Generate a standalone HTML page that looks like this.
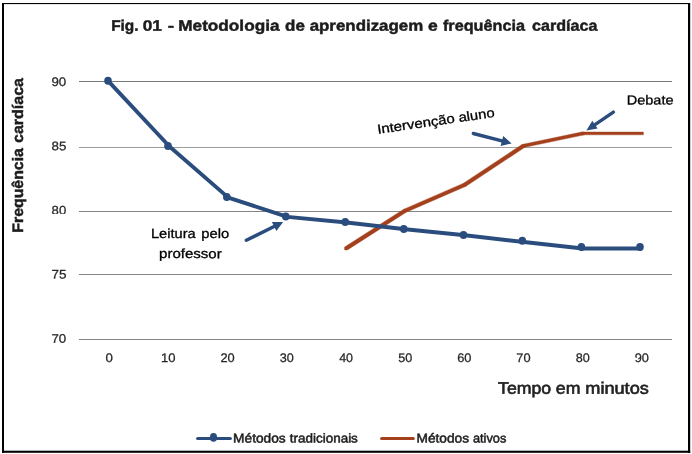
<!DOCTYPE html>
<html><head><meta charset="utf-8"><title>Fig. 01</title>
<style>
html,body{margin:0;padding:0;background:#fff;}
body{width:692px;height:454px;overflow:hidden;font-family:"Liberation Sans",sans-serif;}
svg{display:block;will-change:transform;}
text{font-family:"Liberation Sans",sans-serif;text-rendering:geometricPrecision;}
</style></head><body>
<svg width="692" height="454" viewBox="0 0 692 454">
<rect x="0" y="0" width="692" height="454" fill="#ffffff"/>
<clipPath id="c80"><rect x="40" y="200" width="40" height="13.9"/></clipPath>
<rect x="2" y="3" width="2" height="450" fill="#000"/>
<rect x="2" y="3" width="688" height="1.1" fill="#000"/>
<rect x="688" y="3" width="2.2" height="450" fill="#000"/>
<rect x="2" y="450.7" width="688.2" height="2.1" fill="#000"/>
<line x1="79" y1="81.5" x2="672" y2="81.5" stroke="#7a7a7a" stroke-width="1"/>
<line x1="79" y1="147.5" x2="672" y2="147.5" stroke="#9c9c9c" stroke-width="1"/>
<line x1="79" y1="211.5" x2="672" y2="211.5" stroke="#858585" stroke-width="1"/>
<line x1="79" y1="274.5" x2="672" y2="274.5" stroke="#858585" stroke-width="1"/>
<line x1="79" y1="339.5" x2="672" y2="339.5" stroke="#858585" stroke-width="1"/>
<text transform="translate(111.16,30.67) rotate(0.03) scale(1.0152,1)" font-size="15.2" font-weight="bold" fill="#1c1c1c" stroke="#1c1c1c" stroke-width="0.45">Fig.</text>
<text transform="translate(142.79,30.67) rotate(0.03) scale(1.1306,1)" font-size="15.2" font-weight="bold" fill="#1c1c1c" stroke="#1c1c1c" stroke-width="0.45">01</text>
<text transform="translate(167.73,30.67) rotate(0.03) scale(1.2508,1)" font-size="15.2" font-weight="bold" fill="#1c1c1c" stroke="#1c1c1c" stroke-width="0.45">-</text>
<text transform="translate(178.25,30.67) rotate(0.03) scale(1.1320,1)" font-size="15.2" font-weight="bold" fill="#1c1c1c" stroke="#1c1c1c" stroke-width="0.45">Metodologia</text>
<text transform="translate(285.09,30.67) rotate(0.03) scale(1.1164,1)" font-size="15.2" font-weight="bold" fill="#1c1c1c" stroke="#1c1c1c" stroke-width="0.45">de</text>
<text transform="translate(309.66,30.67) rotate(0.03) scale(1.1119,1)" font-size="15.2" font-weight="bold" fill="#1c1c1c" stroke="#1c1c1c" stroke-width="0.45">aprendizagem</text>
<text transform="translate(427.98,30.67) rotate(0.03) scale(1.1513,1)" font-size="15.2" font-weight="bold" fill="#1c1c1c" stroke="#1c1c1c" stroke-width="0.45">e</text>
<text transform="translate(442.97,30.67) rotate(0.03) scale(1.0681,1)" font-size="15.2" font-weight="bold" fill="#1c1c1c" stroke="#1c1c1c" stroke-width="0.45">frequência</text>
<text transform="translate(532.12,30.67) rotate(0.03) scale(1.0593,1)" font-size="15.2" font-weight="bold" fill="#1c1c1c" stroke="#1c1c1c" stroke-width="0.45">cardíaca</text>
<text transform="translate(498.02,393.7) rotate(0.03) scale(1.0677,1)" font-size="16.6" fill="#222" stroke="#222" stroke-width="0.6">Tempo</text>
<text transform="translate(555.85,393.7) rotate(0.03) scale(1.0654,1)" font-size="16.6" fill="#222" stroke="#222" stroke-width="0.6">em</text>
<text transform="translate(585.26,393.7) rotate(0.03) scale(1.0943,1)" font-size="16.6" fill="#222" stroke="#222" stroke-width="0.6">minutos</text>
<text transform="translate(150.91,238.1) rotate(0.03) scale(1.1004,1)" font-size="13.3" fill="#000" stroke="#000" stroke-width="0.3">Leitura</text>
<text transform="translate(201.23,238.1) rotate(0.03) scale(1.1104,1)" font-size="13.3" fill="#000" stroke="#000" stroke-width="0.3">pelo</text>
<text transform="translate(159.11,258.1) rotate(0.03) scale(1.1294,1)" font-size="13.3" fill="#000" stroke="#000" stroke-width="0.3">professor</text>
<text transform="translate(626.82,104.6) rotate(0.03) scale(1.0976,1)" font-size="13.2" fill="#000" stroke="#000" stroke-width="0.3">Debate</text>
<text transform="translate(233.08,442.5) rotate(0.03) scale(1.0714,1)" font-size="12.8" fill="#1c1c1c" stroke="#1c1c1c" stroke-width="0.5">Métodos</text>
<text transform="translate(289.75,442.5) rotate(0.03) scale(1.0522,1)" font-size="12.8" fill="#1c1c1c" stroke="#1c1c1c" stroke-width="0.5">tradicionais</text>
<text transform="translate(416.48,442.5) rotate(0.03) scale(1.0714,1)" font-size="12.8" fill="#1c1c1c" stroke="#1c1c1c" stroke-width="0.5">Métodos</text>
<text transform="translate(472.95,442.5) rotate(0.03) scale(0.9989,1)" font-size="12.8" fill="#1c1c1c" stroke="#1c1c1c" stroke-width="0.5">ativos</text>
<text transform="translate(51.40,86.0) rotate(0.03) scale(1.0734,1)" font-size="12.4" fill="#262626" stroke="#262626" stroke-width="0.25">90</text>
<text transform="translate(51.61,150.2) rotate(0.03) scale(1.0734,1)" font-size="12.4" fill="#262626" stroke="#262626" stroke-width="0.25">85</text>
<g clip-path="url(#c80)"><text transform="translate(51.62,214.4) rotate(0.03) scale(1.0576,1)" font-size="12.4" fill="#262626" stroke="#262626" stroke-width="0.25">80</text></g>
<text transform="translate(51.39,278.6) rotate(0.03) scale(1.0898,1)" font-size="12.4" fill="#262626" stroke="#262626" stroke-width="0.25">75</text>
<text transform="translate(51.40,342.8) rotate(0.03) scale(1.0734,1)" font-size="12.4" fill="#262626" stroke="#262626" stroke-width="0.25">70</text>
<text transform="translate(105.61,362.0) rotate(0.03) scale(1.0726,1)" font-size="12.4" fill="#262626" stroke="#262626" stroke-width="0.25">0</text>
<text transform="translate(161.04,362.0) rotate(0.03) scale(1.0505,1)" font-size="12.4" fill="#262626" stroke="#262626" stroke-width="0.25">10</text>
<text transform="translate(220.43,362.0) rotate(0.03) scale(1.0347,1)" font-size="12.4" fill="#262626" stroke="#262626" stroke-width="0.25">20</text>
<text transform="translate(279.82,362.0) rotate(0.03) scale(1.0194,1)" font-size="12.4" fill="#262626" stroke="#262626" stroke-width="0.25">30</text>
<text transform="translate(339.20,362.0) rotate(0.03) scale(1.0045,1)" font-size="12.4" fill="#262626" stroke="#262626" stroke-width="0.25">40</text>
<text transform="translate(398.18,362.0) rotate(0.03) scale(1.0194,1)" font-size="12.4" fill="#262626" stroke="#262626" stroke-width="0.25">50</text>
<text transform="translate(457.15,362.0) rotate(0.03) scale(1.0347,1)" font-size="12.4" fill="#262626" stroke="#262626" stroke-width="0.25">60</text>
<text transform="translate(516.33,362.0) rotate(0.03) scale(1.0347,1)" font-size="12.4" fill="#262626" stroke="#262626" stroke-width="0.25">70</text>
<text transform="translate(575.72,362.0) rotate(0.03) scale(1.0194,1)" font-size="12.4" fill="#262626" stroke="#262626" stroke-width="0.25">80</text>
<text transform="translate(634.69,362.0) rotate(0.03) scale(1.0347,1)" font-size="12.4" fill="#262626" stroke="#262626" stroke-width="0.25">90</text>
<text transform="translate(23.4,231.7) rotate(-90) translate(-0.97,0) scale(1.0438,1)" font-size="15.2" font-weight="bold" fill="#1c1c1c" stroke="#1c1c1c" stroke-width="0.45">Frequência</text>
<text transform="translate(23.4,142.4) rotate(-90) translate(-0.58,0) scale(1.0544,1)" font-size="15.2" font-weight="bold" fill="#1c1c1c" stroke="#1c1c1c" stroke-width="0.45">cardíaca</text>
<text transform="translate(378.9,133.8) rotate(-8.3) translate(-1.02,0) scale(1.1263,1)" font-size="13.3" fill="#000" stroke="#000" stroke-width="0.3">Intervenção</text>
<text transform="translate(378.9,133.8) rotate(-8.3) translate(81.19,0) scale(1.1112,1)" font-size="13.3" fill="#000" stroke="#000" stroke-width="0.3">aluno</text>
<rect x="634.4" y="357.7" width="3.7" height="1.8" fill="#fff"/>
<path d="M344.58 247.08 L403.38 209.38 L406.22 209.38 L406.22 212.22 L347.42 249.92 L344.58 249.92Z M403.38 209.38 L463.18 183.38 L466.02 183.38 L466.02 186.22 L406.22 212.22 L403.38 212.22Z M463.18 183.38 L521.98 144.48 L524.82 144.48 L524.82 147.32 L466.02 186.22 L463.18 186.22Z M521.98 144.48 L581.58 132.03 L584.42 132.03 L584.42 134.87 L524.82 147.32 L521.98 147.32Z M581.58 132.03 L643.42 132.03 L643.42 134.87 L581.58 134.87Z" fill="#a5401c" stroke="#a5401c" stroke-width="0.4" stroke-linejoin="round"/>
<polyline points="109.5,82.3 169.5,146.5 228.3,197.6 287.3,216.9 346.7,222.5 405.3,229.2 465.0,235.3 523.8,242.0 582.9,248.5 641.5,248.5" fill="none" stroke="#2b4d7e" stroke-width="3.9" stroke-linejoin="round" stroke-linecap="butt"/>
<ellipse cx="108.0" cy="80.8" rx="3.8" ry="4" fill="#2b4d7e"/>
<ellipse cx="168.0" cy="145.9" rx="3.8" ry="4" fill="#2b4d7e"/>
<ellipse cx="226.8" cy="196.9" rx="3.8" ry="4" fill="#2b4d7e"/>
<ellipse cx="285.8" cy="216.4" rx="3.8" ry="4" fill="#2b4d7e"/>
<ellipse cx="345.2" cy="221.9" rx="3.8" ry="4" fill="#2b4d7e"/>
<ellipse cx="403.8" cy="228.9" rx="3.8" ry="4" fill="#2b4d7e"/>
<ellipse cx="463.5" cy="234.9" rx="3.8" ry="4" fill="#2b4d7e"/>
<ellipse cx="522.3" cy="240.7" rx="3.8" ry="4" fill="#2b4d7e"/>
<ellipse cx="581.4" cy="246.9" rx="3.8" ry="4" fill="#2b4d7e"/>
<ellipse cx="640.0" cy="246.9" rx="3.8" ry="4" fill="#2b4d7e"/>
<line x1="246.3" y1="240.3" x2="274.1" y2="226.5" stroke="#2b4d7e" stroke-width="3.4" stroke-linecap="round"/><polygon points="283.1,222.1 276.4,231.0 271.9,222.1" fill="#2b4d7e"/>
<line x1="473.3" y1="133.5" x2="501.9" y2="140.9" stroke="#2b4d7e" stroke-width="3.4" stroke-linecap="round"/><polygon points="511.6,143.4 500.6,145.9 503.2,135.9" fill="#2b4d7e"/>
<line x1="613.4" y1="112.1" x2="595.0" y2="124.6" stroke="#2b4d7e" stroke-width="3.4" stroke-linecap="round"/><polygon points="586.4,130.5 592.3,120.8 597.6,128.5" fill="#2b4d7e"/>
<line x1="197.6" y1="438.5" x2="230.4" y2="438.5" stroke="#2b4d7e" stroke-width="3" stroke-linecap="round"/>
<ellipse cx="213.5" cy="437.4" rx="3.6" ry="4.3" fill="#2b4d7e"/>
<line x1="381.6" y1="438.5" x2="413.3" y2="438.5" stroke="#a5401c" stroke-width="3" stroke-linecap="round"/>
</svg></body></html>
